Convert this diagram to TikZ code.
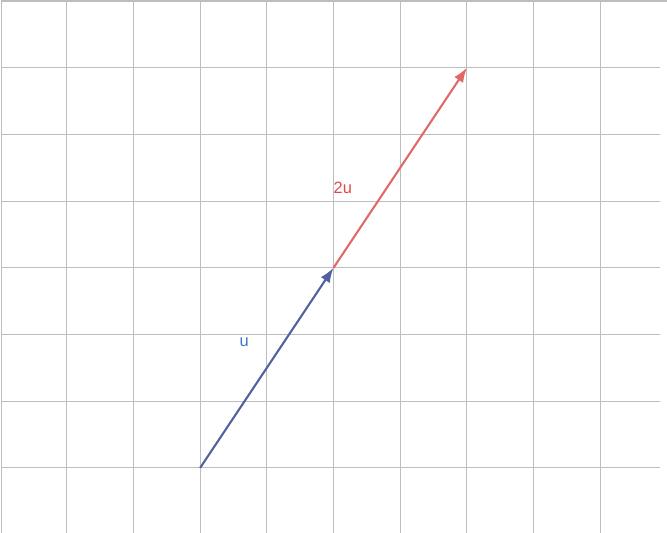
\documentclass[tikz,border=0pt]{standalone}
\usepackage{fontspec}
\setmainfont{Liberation Sans}
\usetikzlibrary{arrows.meta}
\definecolor{gridgray}{HTML}{BDBDBD}
\definecolor{vecblue}{HTML}{5060A0}
\definecolor{vecred}{HTML}{E06868}
\definecolor{lblblue}{HTML}{3A78D0}
\definecolor{lblred}{HTML}{E04848}
\begin{document}
\begin{tikzpicture}[
    vec/.style={line width=0.9pt,-{Latex[length=2.2mm,width=1.6mm]}},
    lbl/.style={font=\fontsize{7}{8}\selectfont,inner sep=0pt}
  ]
        \useasboundingbox (0,0.035) rectangle (10,8.015);
        \clip (0,0.035) rectangle (10,8.015);
        % grid
        \draw[gridgray,line width=0.45pt] (0.02,-1) grid (9.9,8);
        \draw[gridgray,line width=0.45pt] (0.02,-1) -- (0.02,8.1);
        \draw[gridgray,line width=0.45pt] (9.9,8) -- (10,8);
        % points
        \coordinate (o) at (3,1);
        \coordinate (u) at (5,4);
        \coordinate (tu) at (7,7);
        % 2u (red) then u (blue)
        \draw[vec,vecred] (u) -- (tu);
        \draw[vec,vecblue] (o) -- (u);
        % labels
        \node[lbl,lblblue] (ulbl) at (3.66,2.88) {u};
        \node[lbl,lblred] (tulbl) at (5.14,5.2) {2u};
    \end{tikzpicture}
\end{document}
